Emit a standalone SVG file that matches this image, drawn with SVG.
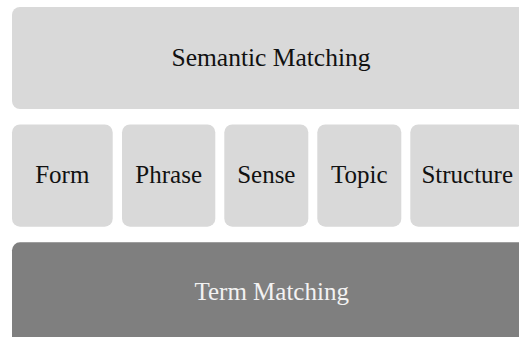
<svg xmlns="http://www.w3.org/2000/svg" width="519" height="337" viewBox="0 0 519 337">
<style>
.light{fill:#d9d9d9}
.dark{fill:#7f7f7f}
text{font-family:"Liberation Serif","Times New Roman",serif;font-size:25px;text-anchor:middle}
.t{fill:#111111}
.w{fill:#f2f2f2}
</style>
<rect width="519" height="337" fill="#ffffff"/>
<g id="semantic-matching">
<rect class="light" x="12" y="7" width="520" height="102" rx="8"/>
<text class="t" x="271" y="66" style="font-size:25.5px">Semantic Matching</text>
</g>
<g id="form">
<rect class="light" x="12" y="124.5" width="100.7" height="102.2" rx="8"/>
<text class="t" x="62.3" y="183">Form</text>
</g>
<g id="phrase">
<rect class="light" x="122" y="124.5" width="93.3" height="102.2" rx="8"/>
<text class="t" x="168.7" y="183">Phrase</text>
</g>
<g id="sense">
<rect class="light" x="224.3" y="124.5" width="84" height="102.2" rx="8"/>
<text class="t" x="266.3" y="183">Sense</text>
</g>
<g id="topic">
<rect class="light" x="317.3" y="124.5" width="84" height="102.2" rx="8"/>
<text class="t" x="359.3" y="183">Topic</text>
</g>
<g id="structure">
<rect class="light" x="410.3" y="124.5" width="113.7" height="102.2" rx="8"/>
<text class="t" x="467.2" y="183">Structure</text>
</g>
<g id="term-matching">
<rect class="dark" x="12" y="242.3" width="520" height="110" rx="8"/>
<text class="w" x="271.7" y="299.5">Term Matching</text>
</g>
<g id="connectors"></g>
</svg>
